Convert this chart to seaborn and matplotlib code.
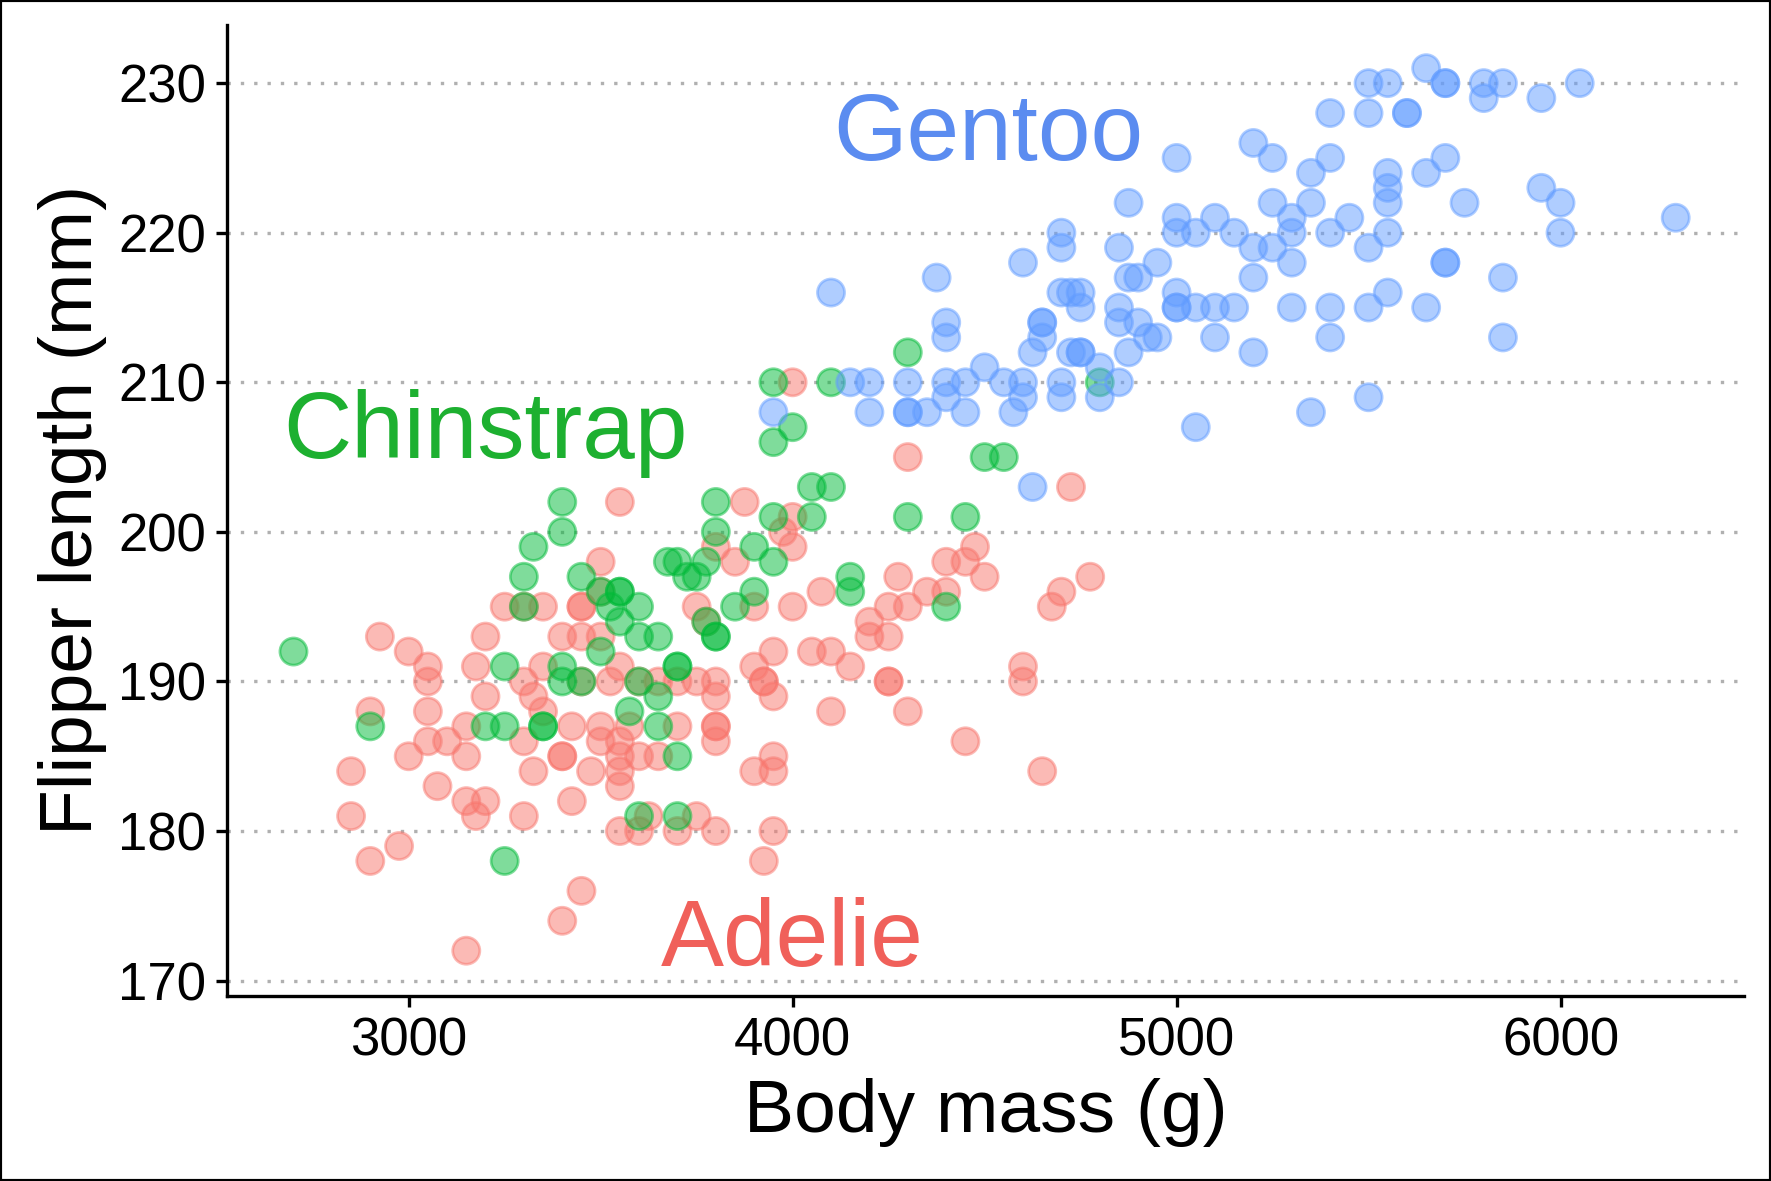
import matplotlib
matplotlib.use("Agg")
import matplotlib.pyplot as plt
import seaborn as sns
import pandas as pd

gentoo = [(4100,216),(3950,208),(4200,210),(4150,210),(4200,208),(4300,210),(4300,208),(4350,208),(4375,217),
          (4400,214),(4400,213),(4400,210),(4400,209),(4450,210),(4450,208),(4500,211),(4550,210),(4575,208),
          (4600,218),(4600,210),(4600,209),(4625,203),(4625,212),(4650,214),(4650,214),(4650,213),(4700,216),
          (4700,220),(4700,219),(4700,210),(4700,209),(4725,216),(4750,216),(4750,215),(4750,212),(4750,212),
          (4725,212),(4800,211),(4800,209),(4850,219),(4850,215),(4850,214),(4850,210),(4875,222),(4875,217),
          (4875,212),(4900,217),(4900,214),(4925,213),(4950,218),(4950,213),(5000,225),(5000,221),(5000,220),
          (5000,216),(5000,215),(5000,215),(5050,220),(5050,215),(5050,207),(5100,221),(5100,215),(5100,213),
          (5150,220),(5150,215),(5200,226),(5200,219),(5200,217),(5200,212),(5250,225),(5250,222),(5250,219),
          (5300,221),(5300,220),(5300,218),(5300,215),(5350,224),(5350,222),(5350,208),(5400,228),(5400,225),
          (5400,220),(5400,215),(5400,213),(5450,221),(5500,230),(5500,228),(5500,219),(5500,215),(5500,209),
          (5550,230),(5550,224),(5550,223),(5550,222),(5550,220),(5550,216),(5600,228),(5600,228),(5650,231),(5650,224),
          (5650,215),(5700,230),(5700,230),(5700,225),(5700,218),(5700,218),(5750,222),(5800,230),(5800,229),(5850,230),
          (5850,217),(5850,213),(5950,229),(5950,223),(6000,222),(6000,220),(6050,230),(6300,221),(4300,208)]

chinstrap = [(2700,192),(2900,187),(3200,187),(3250,191),(3250,178),(3250,187),(3300,197),(3300,195),(3325,199),
             (3350,187),(3350,187),(3400,202),(3400,200),(3400,191),(3400,190),(3450,197),(3450,190),(3500,196),
             (3500,192),(3525,195),(3550,196),(3550,194),(3575,188),(3600,195),(3600,193),(3600,190),(3600,181),
             (3650,193),(3650,189),(3650,187),(3675,198),(3700,198),(3700,191),(3700,185),(3700,181),(3725,197),
             (3750,197),(3775,194),(3775,198),(3800,202),(3800,200),(3800,193),(3800,193),(3850,195),(3900,199),
             (3900,196),(3950,210),(3950,206),(3950,201),(3950,198),(4000,207),(4050,203),(4050,201),(4100,210),
             (4100,203),(4150,197),(4150,196),(4300,212),(4300,201),(4400,195),(4450,201),(4500,205),(4550,205),
             (4800,210),(3700,191),(3550,196)]

adelie = [(2850,184),(2850,181),(2900,188),(2900,178),(2925,193),(2975,179),(3000,192),(3000,185),(3050,191),
          (3050,190),(3050,188),(3050,186),(3075,183),(3100,186),(3150,187),(3150,185),(3150,182),(3150,172),
          (3175,191),(3175,181),(3200,193),(3200,182),(3200,189),(3250,195),(3300,195),(3300,190),(3300,186),
          (3300,181),(3325,189),(3325,184),(3350,195),(3350,191),(3350,188),(3400,193),(3400,185),(3400,185),
          (3400,174),(3425,187),(3425,182),(3450,195),(3450,193),(3450,190),(3450,176),(3475,184),(3500,198),
          (3500,196),(3500,193),(3500,187),(3500,186),(3525,190),(3550,202),(3550,191),(3550,186),(3550,184),
          (3550,183),(3550,180),(3575,187),(3600,190),(3600,185),(3600,180),(3625,181),(3650,190),(3650,185),
          (3700,190),(3700,187),(3700,180),(3750,195),(3750,190),(3750,181),(3775,194),(3800,199),(3800,190),
          (3800,189),(3800,187),(3800,186),(3800,180),(3850,198),(3875,202),(3900,195),(3900,191),(3900,184),
          (3925,178),(3950,192),(3950,189),(3950,185),(3950,180),(3975,200),(4000,201),(4000,199),(4000,195),
          (4000,210),(4050,192),(4075,196),(4100,192),(4100,188),(4150,191),(4200,194),(4200,193),(4250,195),
          (4250,193),(4250,190),(4250,190),(4275,197),(4300,205),(4300,195),(4300,188),(4350,196),(4400,198),(4400,196),
          (4450,198),(4450,186),(4475,199),(4500,197),(4600,191),(4600,190),(4650,184),(4675,195),(4700,196),
          (4725,203),(4775,197),(3925,190),(3925,190),(3950,184),(3550,185),(3450,195),(3800,187)]

species = ["Adelie", "Chinstrap", "Gentoo"]
colors = {"Adelie": "#F8766D", "Chinstrap": "#00BA38", "Gentoo": "#619CFF"}

rows = []
for name, pts in zip(species, [adelie, chinstrap, gentoo]):
    for m, f in pts:
        rows.append({"species": name, "body_mass_g": m, "flipper_length_mm": f})
df = pd.DataFrame(rows)

sns.set_style("ticks")
plt.rcParams['font.family'] = ['Liberation Sans', 'DejaVu Sans']

fig = plt.figure(figsize=(8.855, 5.905), dpi=200)
ax = fig.add_axes([0.128, 0.157, 0.857, 0.822])
sns.scatterplot(data=df, x="body_mass_g", y="flipper_length_mm", hue="species",
                palette=colors, s=95, alpha=0.5, linewidth=1, ax=ax, legend=False)
for c in ax.collections:
    c.set_edgecolor(c.get_facecolor())

ax.set_xlim(2526, 6479)
ax.set_ylim(169.0, 233.9)
ax.set_xticks([3000, 4000, 5000, 6000])
ax.set_yticks([170, 180, 190, 200, 210, 220, 230])
ax.yaxis.grid(True, linestyle=(0, (1, 3)), color="#b0b0b0", linewidth=1.2)
ax.set_axisbelow(True)
sns.despine(ax=ax)
for sp in ax.spines.values():
    sp.set_color("black")
    sp.set_linewidth(1.2)
ax.tick_params(labelsize=19, width=1.2, length=4, colors="black", labelcolor="black")
ax.set_xlabel("Body mass (g)", fontsize=27, color="black")
ax.set_ylabel("Flipper length (mm)", fontsize=27, color="black")

ax.text(4510, 226.5, "Gentoo", color="#5B8CF0", fontsize=34, ha="center", va="center")
ax.text(3200, 206.6, "Chinstrap", color="#1DB030", fontsize=34, ha="center", va="center")
ax.text(4000, 172.6, "Adelie", color="#F0605A", fontsize=34, ha="center", va="center")

fig.patches.append(plt.Rectangle((0, 0), 1, 1, transform=fig.transFigure,
                                 fill=False, edgecolor="black", linewidth=1.5))
fig.savefig("out.png", dpi=200)
